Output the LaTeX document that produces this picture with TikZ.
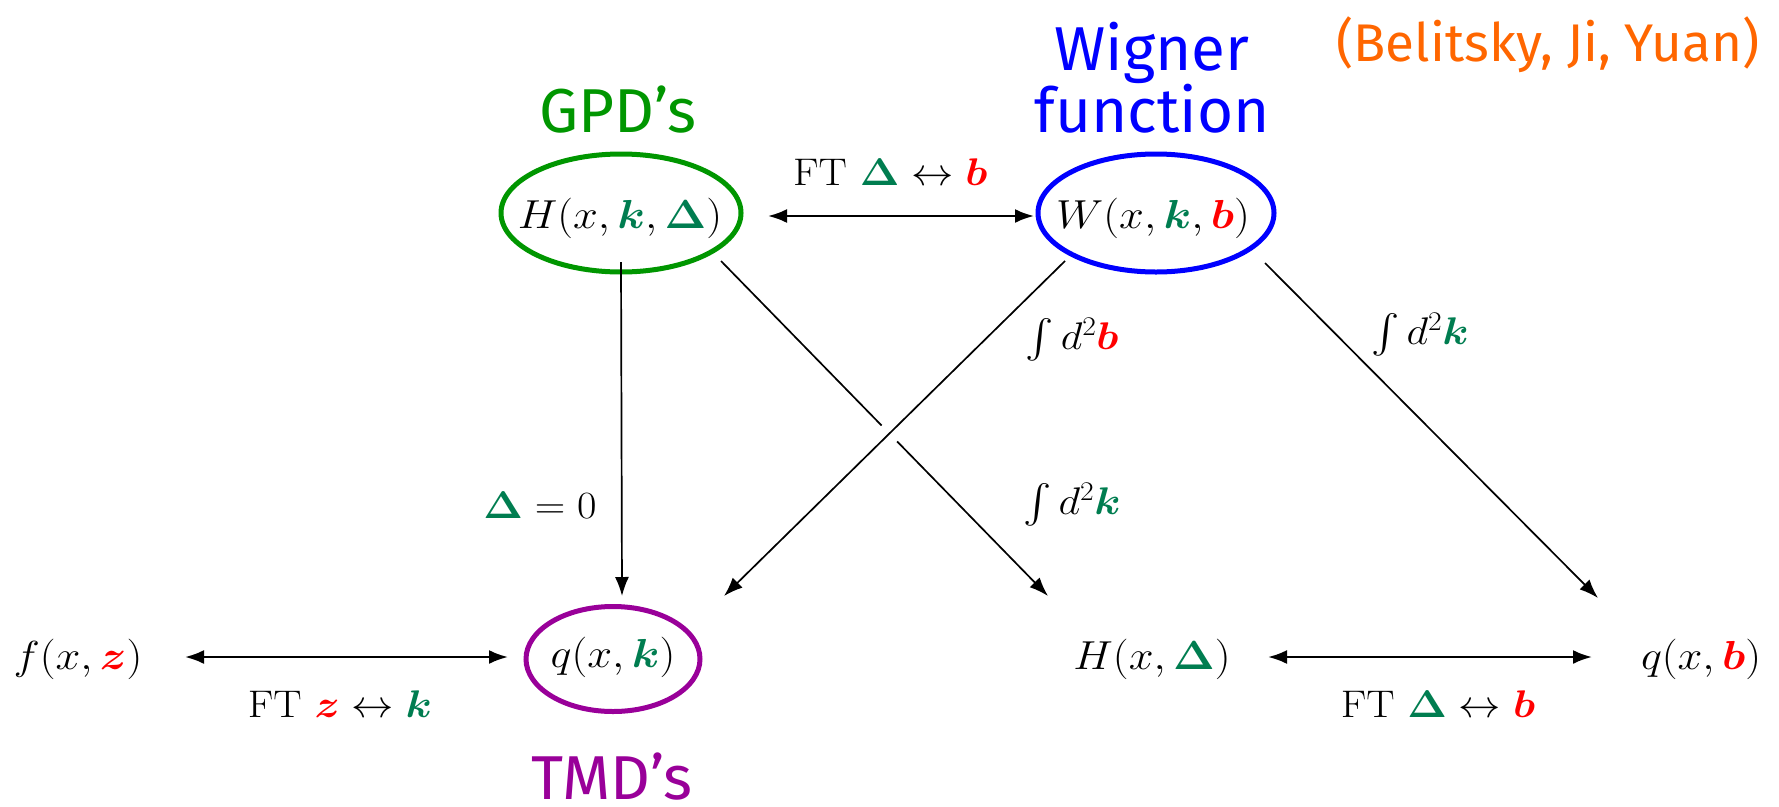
\RequirePackage{fix-cm}
\documentclass[tikz,border=0pt]{standalone}
\usepackage[no-math]{fontspec}
\usepackage{bm}
\DeclareFontShape{OMX}{cmex}{m}{n}{<->cmex10}{}
\usetikzlibrary{calc,arrows.meta,shapes.geometric}
\newfontfamily\handfont{Fira Sans}
\definecolor{mgreen}{RGB}{0,125,80}
\definecolor{mred}{RGB}{255,0,0}
\definecolor{gpdgreen}{RGB}{0,150,0}
\definecolor{wblue}{RGB}{0,0,255}
\definecolor{tpurple}{RGB}{153,0,153}
\definecolor{borange}{RGB}{255,102,0}
\newcommand{\gk}{{\color{mgreen}\bm{k}}}
\newcommand{\gD}{{\color{mgreen}\mathbf{\Delta}}}
\newcommand{\rb}{{\color{mred}\bm{b}}}
\newcommand{\rz}{{\color{mred}\bm{z}}}
\newcommand{\wx}[1]{\scalebox{1.1}[1]{#1}}
\begin{document}
\begin{tikzpicture}[x=1pt,y=-1pt,
  every node/.style={inner sep=0pt},
  math/.style={font=\fontsize{40.5}{46}\selectfont},
  lab/.style={font=\fontsize{38.5}{44}\selectfont},
  hand/.style={font=\handfont\fontsize{62}{68}\selectfont, align=center},
  oval/.style={ellipse, draw, line width=5pt},
  conn/.style={-{Latex[length=19pt,width=14pt]}, line width=1.7pt},
  dconn/.style={{Latex[length=19pt,width=14pt]}-{Latex[length=19pt,width=14pt]}, line width=2.4pt}]
\useasboundingbox (0,0) rectangle (1779,806);

% ellipses
\node[oval, draw=gpdgreen, minimum width=240pt, minimum height=118pt] (e1) at (621,213) {};
\node[oval, draw=wblue, minimum width=236pt, minimum height=118pt] (e2) at (1156,213) {};
\node[oval, draw=tpurple, minimum width=174pt, minimum height=105pt] (e3) at (613,659) {};

% math nodes
\node[math] (Hk) at (620,218) {\wx{$H(x,\gk,\gD)$}};
\node[math] (W) at (1153,218) {\wx{$W(x,\gk,\rb)$}};
\node[math] (q) at (613,657) {\wx{$q(x,\gk)$}};
\node[math] (f) at (78,659) {\wx{$f(x,\rz)$}};
\node[math] (Hd) at (1152,659) {\wx{$H(x,\gD)$}};
\node[math] (qb) at (1701,659) {\wx{$q(x,\rb)$}};

% handwritten labels
\node[hand, text=gpdgreen] (gpd) at (618,110) {GPD’s};
\node[hand, text=wblue] (wig) at (1152,78) {Wigner\\[-6pt]function};
\node[hand, text=tpurple] (tmd) at (612,777) {TMD’s};
\node[hand, text=borange, font=\handfont\fontsize{53}{58}\selectfont] (bjy) at (1548,45) {(Belitsky, Ji, Yuan)};

% connector labels
\node[lab, anchor=west] (l1) at (793,172) {\wx{$\mathrm{FT}\ \gD \leftrightarrow \rb$}};
\node[lab] (l2) at (540,505) {\wx{$\gD = 0$}};
\node[lab] (l3) at (1072,340) {\wx{$\int d^2\rb$}};
\node[lab] (l4) at (1420,335) {\wx{$\int d^2\gk$}};
\node[lab] (l5) at (1072,505) {\wx{$\int d^2\gk$}};
\node[lab] (l6) at (340,704) {\wx{$\mathrm{FT}\ \rz \leftrightarrow \gk$}};
\node[lab] (l7) at (1438,704) {\wx{$\mathrm{FT}\ \gD \leftrightarrow \rb$}};

% connectors
\draw[dconn] ($(Hk)+(148,-2)$) -- ($(W)+(-119,-2)$);
\draw[dconn] ($(f)+(107,-2)$) -- ($(q)+(-105,0)$);
\draw[dconn] ($(Hd)+(116,-2)$) -- ($(qb)+(-109,-2)$);
\draw[conn] ($(Hk)+(1,44)$) -- ($(q)+(9,-61)$);
\draw[conn] ($(Hk)+(101,43)$) -- ($(Hd)+(-104,-63)$);
\draw[white, line width=22pt] ($($(W)+(-88,43)$)!0.46!($(q)+(111,-61)$)$) -- ($($(W)+(-88,43)$)!0.565!($(q)+(111,-61)$)$);
\draw[conn] ($(W)+(-88,43)$) -- ($(q)+(111,-61)$);
\draw[conn] ($(W)+(112,45)$) -- ($(qb)+(-103,-61)$);
\end{tikzpicture}
\end{document}
